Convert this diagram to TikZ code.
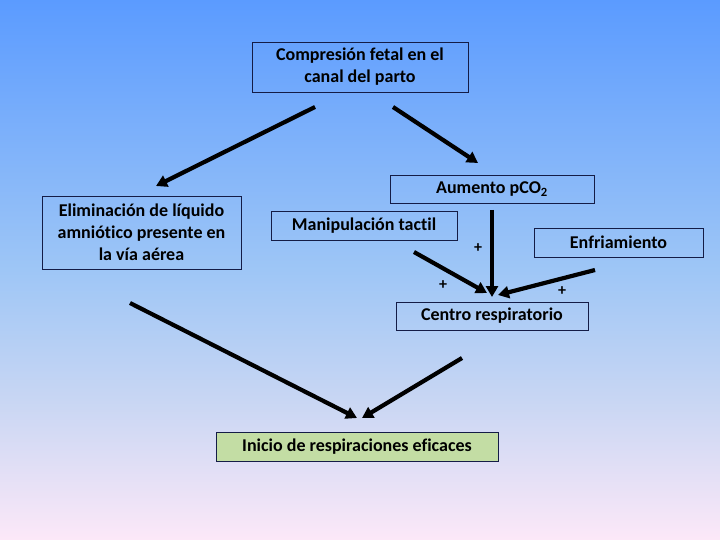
\documentclass[tikz,border=0pt]{standalone}
\usepackage{fontspec}
\setmainfont{Carlito}[Ligatures=NoCommon]
\usetikzlibrary{arrows.meta}
\definecolor{fondoalto}{RGB}{91,155,255}
\definecolor{fondomedio}{RGB}{158,198,246}
\definecolor{fondoclaro}{RGB}{200,214,243}
\definecolor{fondobajo}{RGB}{252,232,248}
\definecolor{borde}{RGB}{20,28,70}
\definecolor{verde}{RGB}{195,221,164}
\pgfdeclareverticalshading{fondo}{100bp}{color(0bp)=(fondobajo); color(25bp)=(fondobajo);
    color(38bp)=(fondoclaro); color(50bp)=(fondomedio); color(75bp)=(fondoalto); color(100bp)=(fondoalto)}

\begin{document}
\begin{tikzpicture}[x=1pt, y=-1pt,
    font=\bfseries\fontsize{18}{22}\selectfont,
    caja/.style={draw=borde, line width=0.8pt, inner sep=0pt, align=center},
    flecha/.style={line width=4.2pt, -{Triangle[length=11pt,width=12pt]}},
    mas/.style={font=\bfseries\fontsize{16}{16}\selectfont}]
    % fondo
    \shade[shading=fondo] (0,0) rectangle (720,540);
    \useasboundingbox (0,0) rectangle (720,540);
    % cajas
    \foreach \nombre/\cx/\cy/\ancho/\alto/\texto in {
        comp/360/67/216/50/{Compresión fetal en el\\canal del parto},
        elim/141.5/232.5/199/73/{Eliminación de líquido\\amniótico presente en\\la vía aérea},
        aum/492/189/204/28/{Aumento pCO\textsubscript{2}},
        manip/364/225.5/186/29/{Manipulación tactil},
        enfr/618.5/242.5/169/29/{Enfriamiento},
        centro/492/316/192/28/{Centro respiratorio}} {
        \node[caja, minimum width=\ancho, minimum height=\alto] (\nombre) at (\cx,\cy) {\texto};
    }
    \node[caja, fill=verde, minimum width=282, minimum height=29] (inicio) at (357,447)
        {Inicio de respiraciones eficaces};
    % extremos de las flechas
    \foreach[count=\i] \xa/\ya/\xb/\yb in {315/107/156/186, 393/107/478/163,
        492/210/492/297, 414/252/487/293, 595/270/498/295,
        130/303/357/418, 462/358/362/418} {
        \coordinate (s-\i) at (\xa,\ya);
        \coordinate (e-\i) at (\xb,\yb);
        \draw[flecha] (s-\i) -- (e-\i);
    }
    \node[mas] (m-1) at (478,248) {+};
    \node[mas] (m-2) at (443,285) {+};
    \node[mas] (m-3) at (562,291) {+};
\end{tikzpicture}
\end{document}
